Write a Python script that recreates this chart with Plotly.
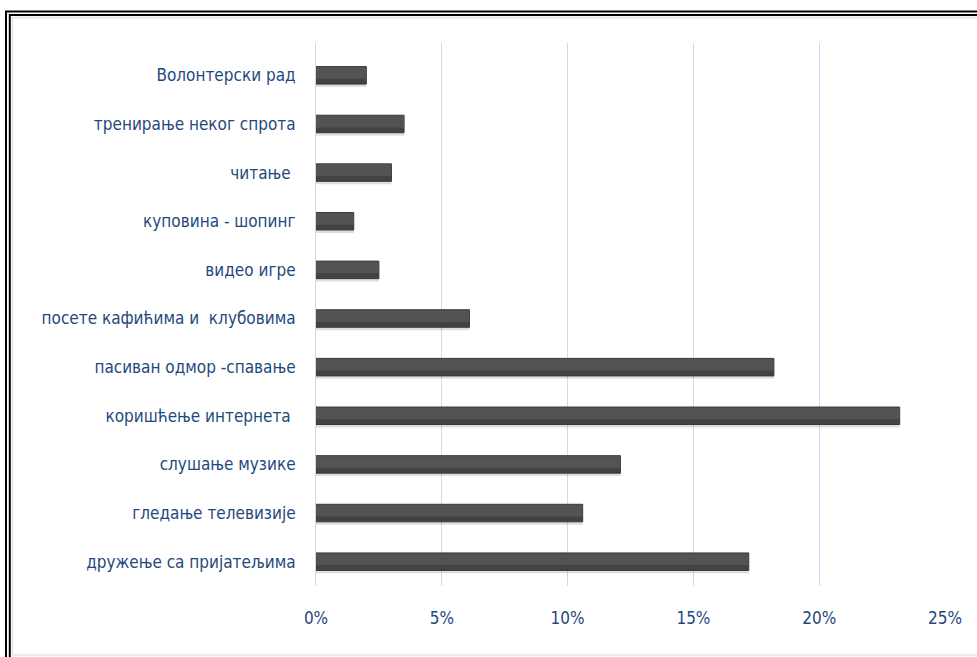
import plotly.graph_objects as go

categories = [
    "дружење са пријатељима",
    "гледање телевизије",
    "слушање музике",
    "коришћење интернета ",
    "пасиван одмор -спавање",
    "посете кафићима и  клубовима",
    "видео игре",
    "куповина - шопинг",
    "читање ",
    "тренирање неког спрота",
    "Волонтерски рад",
]
values = [0.172, 0.106, 0.121, 0.232, 0.182, 0.061, 0.025, 0.015, 0.030, 0.035, 0.020]
tick_vals = [0, 0.05, 0.10, 0.15, 0.20, 0.25]
tick_text = ["0%", "5%", "10%", "15%", "20%", "25%"]

W, H = 977, 657
L, R, T, B = 316, 32, 43, 71
pw, ph = W - L - R, H - T - B

def px(x):
    return (x - L) / pw

def py(y):
    return (H - B - y) / ph

FONT = "DejaVu Sans Condensed, Liberation Sans Narrow, sans-serif"
BLUE = "#1F497D"

fig = go.Figure()
# soft drop shadow
fig.add_trace(go.Bar(
    y=categories, x=values, orientation="h",
    marker=dict(color="rgba(0,0,0,0.13)", line=dict(width=0)),
    width=0.36, offset=-0.24, hoverinfo="skip",
))
# main bar
fig.add_trace(go.Bar(
    y=categories, x=values, orientation="h",
    marker=dict(color="#424242", line=dict(color="#3a3a3a", width=1)),
    width=0.36, offset=-0.18, hoverinfo="x+y",
))
# lighter upper part
fig.add_trace(go.Bar(
    y=categories, x=values, orientation="h",
    marker=dict(color="#535353", line=dict(width=0)),
    width=0.24, offset=-0.07, hoverinfo="skip",
))

shapes = []
for (x0, y0, col, w) in [(6, 11.5, "black", 2), (9.8, 15, "black", 2)]:
    shapes.append(dict(type="rect", xref="paper", yref="paper",
                       x0=px(x0), y0=py(y0), x1=px(W + 20), y1=py(H + 20),
                       line=dict(color=col, width=w), fillcolor="rgba(0,0,0,0)", layer="above"))
shapes.append(dict(type="rect", xref="paper", yref="paper",
                   x0=px(12.5), y0=py(17.5), x1=px(W + 20), y1=py(655),
                   line=dict(color="#DCE6F2", width=1.5), fillcolor="rgba(0,0,0,0)", layer="below"))

fig.update_layout(
    width=W, height=H,
    margin=dict(l=L, r=R, t=T, b=B),
    paper_bgcolor="white", plot_bgcolor="white",
    showlegend=False,
    barmode="overlay",
    shapes=shapes,
    font=dict(family=FONT, color=BLUE, size=17),
    xaxis=dict(
        range=[0, 0.25], tickvals=tick_vals, ticktext=tick_text,
        showgrid=True, gridcolor="#CADCF3", gridwidth=1,
        zeroline=False, showline=False, ticks="",
        tickfont=dict(family=FONT, color=BLUE, size=17),
        ticklabelstandoff=20,
    ),
    yaxis=dict(
        categoryorder="array", categoryarray=categories,
        range=[-0.5, 10.665],
        showgrid=False, zeroline=False, showline=True, linecolor="#CADCF3", linewidth=1,
        ticks="", tickfont=dict(family=FONT, color=BLUE, size=17),
        ticklabelstandoff=16,
    ),
)

fig.write_html("out.html", config={"displayModeBar": False},
               post_script="document.body.style.margin='0';")
